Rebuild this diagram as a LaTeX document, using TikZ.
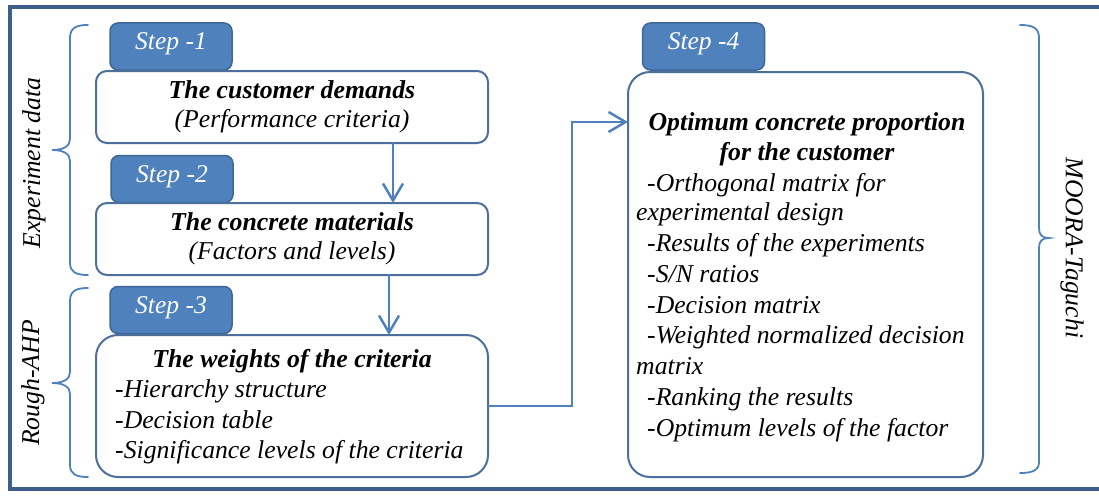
\documentclass[tikz,border=0pt]{standalone}
\usepackage{fontspec}
\setmainfont{Liberation Serif}
\usetikzlibrary{arrows.meta}
\definecolor{frameblue}{HTML}{3B5E8C}
\definecolor{stepfill}{HTML}{4F81BD}
\definecolor{stepdraw}{HTML}{3F6796}
\definecolor{boxdraw}{HTML}{4C6F9C}
\definecolor{linkblue}{HTML}{4F81BD}
\begin{document}
\begin{tikzpicture}[x=1pt,y=-1pt,
  stepbox/.style={draw=stepdraw, fill=stepfill, line width=1.5pt, rounded corners=8pt,
    minimum width=122pt, minimum height=47pt, inner sep=0pt, outer sep=0pt},
  steplabel/.style={text=white, font=\fontsize{25.5}{30}\selectfont\itshape, inner sep=0pt, anchor=base},
  mainbox/.style={draw=boxdraw, fill=white, line width=2pt, inner sep=0pt, outer sep=0pt},
  titletext/.style={font=\fontsize{25.8}{30.5}\selectfont\bfseries\itshape, inner sep=0pt, anchor=base},
  subtext/.style={font=\fontsize{25.7}{30.5}\selectfont\itshape, inner sep=0pt, anchor=base},
  listtext/.style={font=\fontsize{25.7}{30.5}\selectfont\itshape, inner sep=0pt, anchor=base west},
  sidetext/.style={font=\fontsize{25.7}{30.5}\selectfont\itshape, inner sep=0pt},
  link/.style={draw=linkblue, line width=2.5pt, -{Straight Barb[length=17pt,width=20pt,line width=2.5pt]}},
  bracestyle/.style={draw=linkblue, line width=1.8pt, line cap=round}
]
\useasboundingbox (0,0) rectangle (1099,495);
\fill[white] (0,0) rectangle (1099,495);
\draw[frameblue, line width=4pt] (10,7) rectangle (1115,489);

% step tabs
\node[stepbox] (s1) at (171,46.5) {};
\node[stepbox] (s2) at (172,179) {};
\node[stepbox] (s3) at (171,310) {};
\node[stepbox] (s4) at (703.5,46.5) {};
\node[steplabel] (s1t) at (171,49) {Step -1};
\node[steplabel] (s2t) at (172,182) {Step -2};
\node[steplabel] (s3t) at (171,313) {Step -3};
\node[steplabel] (s4t) at (703.5,49) {Step -4};

% main boxes
\node[mainbox, rounded corners=11pt, minimum width=392pt, minimum height=72pt] (box1) at (292,107) {};
\node[mainbox, rounded corners=11pt, minimum width=392pt, minimum height=72pt] (box2) at (292,239) {};
\node[mainbox, rounded corners=22pt, minimum width=392pt, minimum height=142pt] (box3) at (292,406) {};
\node[mainbox, rounded corners=22pt, minimum width=355pt, minimum height=405pt] (box4) at (805.5,274.5) {};

% box texts
\node[titletext] (b1a) at (292,98) {The customer demands};
\node[subtext] (b1b) at (292,127) {(Performance criteria)};
\node[titletext] (b2a) at (292,230) {The concrete materials};
\node[subtext] (b2b) at (292,259) {(Factors and levels)};
\node[titletext] (b3a) at (292,367) {The weights of the criteria};
\node[listtext] (b3b) at (115,397) {-Hierarchy structure};
\node[listtext] (b3c) at (115,428) {-Decision table};
\node[listtext] (b3d) at (115,458) {-Significance levels of the criteria};

\node[titletext] (b4a) at (807,130) {Optimum concrete proportion};
\node[titletext] (b4b) at (807,160) {for the customer};
\node[listtext] (b4c) at (647,191) {-Orthogonal matrix for};
\node[listtext] (b4d) at (636,220) {experimental design};
\node[listtext] (b4e) at (647,251) {-Results of the experiments};
\node[listtext] (b4f) at (647,282) {-S/N ratios};
\node[listtext] (b4g) at (647,313) {-Decision matrix};
\node[listtext] (b4h) at (647,343) {-Weighted normalized decision};
\node[listtext] (b4i) at (636,374) {matrix};
\node[listtext] (b4j) at (647,405) {-Ranking the results};
\node[listtext] (b4k) at (647,436) {-Optimum levels of the factor};

% connectors
\coordinate (c12) at (393,0);
\coordinate (c23) at (389,0);
\coordinate (bend) at (572,122);
\draw[link] (box1.south -| c12) -- (box2.north -| c12);
\draw[link] (box2.south -| c23) -- (box3.north -| c23);
\draw[link] (box3.east) -| (bend) -- (bend -| box4.west);

% braces
\draw[bracestyle] (88,25) .. controls (76,25) and (70,28) .. (70,38) -- (70,139)
  .. controls (70,146) and (64,150) .. (52,150) .. controls (64,150) and (70,154) .. (70,161)
  -- (70,263) .. controls (70,272) and (76,275) .. (88,275);
\draw[bracestyle] (88,288) .. controls (76,288) and (70,291) .. (70,301) -- (70,372)
  .. controls (70,379) and (64,383) .. (52,383) .. controls (64,383) and (70,387) .. (70,394)
  -- (70,465) .. controls (70,474) and (76,477) .. (88,477);
\draw[bracestyle] (1020,25) .. controls (1033,25) and (1039,28) .. (1039,38) -- (1039,228)
  .. controls (1039,235) and (1042,238) .. (1049,238) .. controls (1042,238) and (1039,241) .. (1039,248)
  -- (1039,462) .. controls (1039,470) and (1033,473) .. (1020,473);

% side labels
\node[sidetext, rotate=90] (lab1) at (34,163) {Experiment data};
\node[sidetext, rotate=90] (lab2) at (33,383) {Rough-AHP};
\node[sidetext, rotate=-90] (lab3) at (1072,248) {MOORA-Taguchi};
\end{tikzpicture}
\end{document}
